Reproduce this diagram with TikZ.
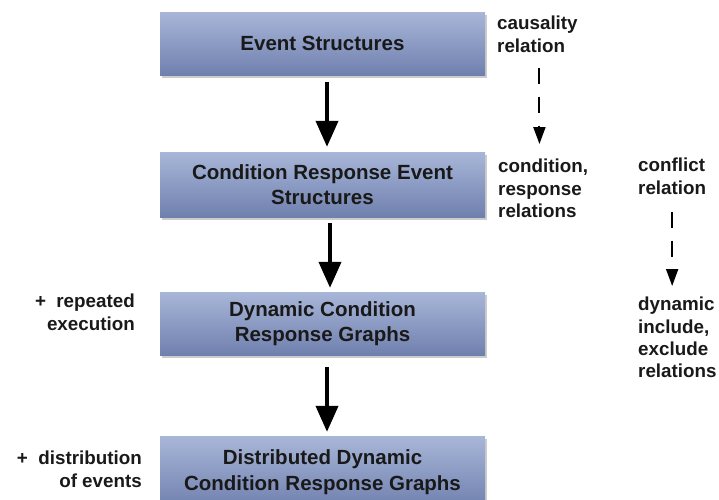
\documentclass[tikz,border=0pt]{standalone}
\usepackage{fontspec}
\setmainfont{Liberation Sans}
\usetikzlibrary{arrows.meta,shadows}
\definecolor{boxtop}{RGB}{168,182,216}
\definecolor{boxbot}{RGB}{112,128,174}
\tikzset{
  stage/.style={minimum width=325pt, inner sep=0pt, top color=boxtop, bottom color=boxbot,
    drop shadow={shadow xshift=2pt, shadow yshift=-2.5pt, fill=black!40, opacity=0.5},
    align=center, font=\fontsize{20.5}{25.5}\selectfont\bfseries, text=black!90},
  side/.style={inner sep=0pt, font=\fontsize{18.8}{22.3}\selectfont\bfseries, text=black!90},
  bigarrow/.style={line width=4pt, -{Triangle[width=22pt,length=26pt]}},
  dasharrow/.style={line width=2pt, dash pattern=on 16pt off 13pt, -{Triangle[width=12pt,length=17pt]}}
}
\begin{document}
\begin{tikzpicture}[x=1pt,y=-1pt]
\useasboundingbox (0,0) rectangle (719,499);
\begin{scope}
\clip (0,0) rectangle (719,499);
\node[stage, minimum height=63pt] (es) at (322.5,43.5) {Event Structures};
\node[stage, minimum height=65pt] (cres) at (322.5,184.5) {Condition Response Event\\Structures};
\node[stage, minimum height=63pt] (dcr) at (322.5,323.5) {Dynamic Condition\\Response Graphs};
\node[stage, minimum height=72pt] (ddcr) at (322.5,472) {Distributed Dynamic\\Condition Response Graphs};
\end{scope}

\draw[bigarrow, shorten <=7pt, shorten >=5pt] ([xshift=4.5pt]es.south) -- ([xshift=4.5pt]cres.north);
\draw[bigarrow, shorten <=6pt, shorten >=4pt] ([xshift=7.5pt]cres.south) -- ([xshift=7.5pt]dcr.north);
\draw[bigarrow, shorten <=12pt, shorten >=4pt] ([xshift=4.5pt]dcr.south) -- ([xshift=4.5pt]ddcr.north);

\node[side, anchor=north west, align=left] (caus) at (497,16) {causality\\relation};
\node[side, anchor=north west, align=left] (cond) at (498,159) {condition,\\response\\relations};
\node[side, anchor=north west, align=left] (conf) at (638,158) {conflict\\relation};
\node[side, anchor=north west, align=left] (dyn) at (638,297) {dynamic\\include,\\exclude\\relations};
\node[side, anchor=north east, align=right] (rep) at (135,294) {+\ \ repeated\\execution};
\node[side, anchor=north east, align=right] (dist) at (142,451) {+\ \ distribution\\of events};

\draw[dasharrow, shorten <=15pt, shorten >=15pt] ([xshift=2pt]caus.south) -- ([xshift=2pt]caus.south |- cond.north);
\draw[dasharrow, shorten <=17pt, shorten >=11pt] (conf.south) -- (conf.south |- dyn.north);
\end{tikzpicture}
\end{document}
